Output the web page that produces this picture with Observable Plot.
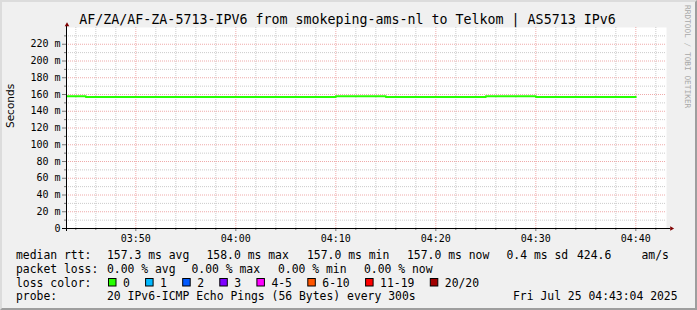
<!DOCTYPE html>
<html>
<head>
<meta charset="utf-8">
<script src="https://cdn.jsdelivr.net/npm/d3@7"></script>
<script src="https://cdn.jsdelivr.net/npm/@observablehq/plot@0.6"></script>
<style>
  html, body { margin: 0; padding: 0; background: #f0f0f0; }
  #chart { position: relative; width: 697px; height: 310px; background: #f0f0f0; overflow: hidden; }
  #chart > svg { position: absolute; left: 0; top: 0; }
  #shade { position: absolute; left: 0; top: 0; width: 697px; height: 310px; box-sizing: border-box;
           border-top: 2px solid #dcdcdc; border-left: 2px solid #dcdcdc;
           border-right: 2px solid #9e9e9e; border-bottom: 2px solid #9e9e9e; }
</style>
</head>
<body>
<div id="chart"><div id="shade"></div></div>
<script>
// ---------------- data ----------------
const titleText = "AF/ZA/AF-ZA-5713-IPV6 from smokeping-ams-nl to Telkom | AS5713 IPv6";
const sampleTimes = ["03:45","03:50","03:55","04:00","04:05","04:10","04:15","04:20","04:25","04:30","04:35","04:40"];
const medianRtt   = [158, 157, 157, 157, 157, 157, 158, 157, 157, 158, 157, 157];
const yTicks      = [0, 20, 40, 60, 80, 100, 120, 140, 160, 180, 200, 220];
const yMinorTicks = [10, 30, 50, 70, 90, 110, 130, 150, 170, 190, 210, 230];
const xTickLabels = ["03:50", "04:00", "04:10", "04:20", "04:30", "04:40"];
const graphStart = "03:43:04", graphEnd = "04:43:04";
const rowLabels  = ["median rtt:", "packet loss:", "loss color:", "probe:"];
const rttStats   = ["157.3 ms avg", "158.0 ms max", "157.0 ms min", "157.0 ms now", "0.4 ms sd", "424.6", "am/s"];
const lossStats  = ["0.00 % avg", "0.00 % max", "0.00 % min", "0.00 % now"];
const lossLabels = ["0", "1", "2", "3", "4-5", "6-10", "11-19", "20/20"];
const lossColors = ["#26ff00", "#00b8ff", "#0059ff", "#7e00ff", "#ff00ff", "#ff5500", "#ff0000", "#a10000"];
const probeText  = "20 IPv6-ICMP Echo Pings (56 Bytes) every 300s";
const dateText   = "Fri Jul 25 04:43:04 2025";
const watermark  = "RRDTOOL / TOBI OETIKER";
const yLabel     = "Seconds";

// ---------------- helpers ----------------
const T = s => new Date(`2025-07-25T${s.length === 5 ? s + ":00" : s}Z`);
const step = 300000;
const lineData = [{t: new Date(T(sampleTimes[0]) - step), v: medianRtt[0]}]
  .concat(sampleTimes.map((s, i) => ({t: T(s), v: medianRtt[i]})));
const xDomain = [T(graphStart), T(graphEnd)];
const majorX = xTickLabels.map(T);
const minorX = d3.utcMinute.every(2).range(xDomain[0], xDomain[1]).filter(d => d.getUTCMinutes() % 10 !== 0);

const minorGrid = "#cbcbcb", majorGrid = "#efaaaa", tickColor = "#777";
const mono = "'DejaVu Sans Mono', monospace";

// ---------------- plot ----------------
const plot = Plot.plot({
  width: 697, height: 250,
  marginLeft: 66, marginRight: 31, marginTop: 27, marginBottom: 22,
  style: {background: "transparent", fontFamily: mono, fontSize: "10px", color: "black", overflow: "visible"},
  x: {type: "utc", domain: xDomain, axis: null},
  y: {domain: [0, 240], axis: null},
  marks: [
    Plot.frame({fill: "white", stroke: "none"}),
    Plot.ruleX(minorX, {stroke: minorGrid, strokeDasharray: "1,1"}),
    Plot.ruleY(yMinorTicks, {stroke: minorGrid, strokeDasharray: "1,1"}),
    Plot.ruleX(majorX, {stroke: majorGrid, strokeDasharray: "1,1"}),
    Plot.ruleY(yTicks.filter(d => d > 0), {stroke: majorGrid, strokeDasharray: "1,1"}),
    Plot.line(lineData, {x: "t", y: "v", curve: "step-before", stroke: "#26ff00", strokeWidth: 2, clip: true}),
    Plot.axisY(yMinorTicks, {tickSize: 2, fill: "none", stroke: tickColor, label: null}),
    Plot.axisY(yTicks, {tickSize: 4, tickPadding: 2, tickFormat: d => d === 0 ? "0" : `${d} m`, stroke: tickColor, fill: "black", label: null}),
    Plot.axisX(minorX, {tickSize: 2, fill: "none", stroke: tickColor, label: null}),
    Plot.axisX(majorX, {tickSize: 3, tickPadding: 3, tickFormat: d3.utcFormat("%H:%M"), stroke: tickColor, fill: "black", label: null}),
    Plot.ruleY([0], {stroke: "black", insetLeft: -4, insetRight: -4}),
    Plot.ruleX([xDomain[0]], {stroke: "black", insetTop: -1, insetBottom: -3}),
    Plot.dot([xDomain[1]], {x: d => d, y: () => 0, symbol: "triangle2", r: 2.2, fill: "#7f0000", stroke: "none", rotate: 90, dx: 5}),
    Plot.dot([xDomain[0]], {x: d => d, y: () => 240, symbol: "triangle2", r: 2.2, fill: "#7f0000", stroke: "none", dx: 0.5, dy: -2.5}),
    Plot.text([yLabel], {text: d => d, frameAnchor: "left", rotate: -90, dx: -52.5, lineAnchor: "bottom",
      fontFamily: "'DejaVu Sans', sans-serif", fontSize: 10.5, fill: "black"})
  ]
});

// ---------------- title & legend (outside the svg plot) ----------------
const svg = d3.create("svg").attr("width", 697).attr("height", 310)
  .style("font-family", mono).style("font-size", "11.4px");

svg.append("text").attr("x", 347.5).attr("y", 24).attr("text-anchor", "middle")
  .style("font-size", "13.3px").attr("fill", "black").text(titleText);

svg.append("text").attr("transform", "translate(685,5) rotate(90)")
  .style("font-size", "7.8px").attr("fill", "#a8a8a8").text(watermark);

const rowY = [258.5, 272.5, 286.5, 300.3];
const cw = 6.9; // monospace advance of the legend font
const addText = (x, y, s) => svg.append("text").attr("x", x).attr("y", y)
  .attr("fill", "black").style("white-space", "pre").text(s);

rowLabels.forEach((s, i) => addText(16, rowY[i], s));
const rttX = [107, 206.5, 307, 407, 506.5, 577, 641.5];
rttStats.forEach((s, i) => addText(rttX[i], rowY[0], s));
const lossX = [107, 191.5, 278, 364];
lossStats.forEach((s, i) => addText(lossX[i], rowY[1], s));
let bx = 108;
lossLabels.forEach((s, i) => {
  svg.append("rect").attr("x", bx + 0.5).attr("y", 278.5).attr("width", 7.5).attr("height", 7.5)
    .attr("fill", lossColors[i]).attr("stroke", "black").attr("stroke-width", 1);
  addText(bx + 15, rowY[2], s);
  bx = bx + 15.3 + s.length * cw + 14.9;
});
addText(107, rowY[3], probeText);
addText(513, rowY[3], dateText);

const chart = document.getElementById("chart");
chart.appendChild(svg.node());
chart.appendChild(plot);
</script>
</body>
</html>
